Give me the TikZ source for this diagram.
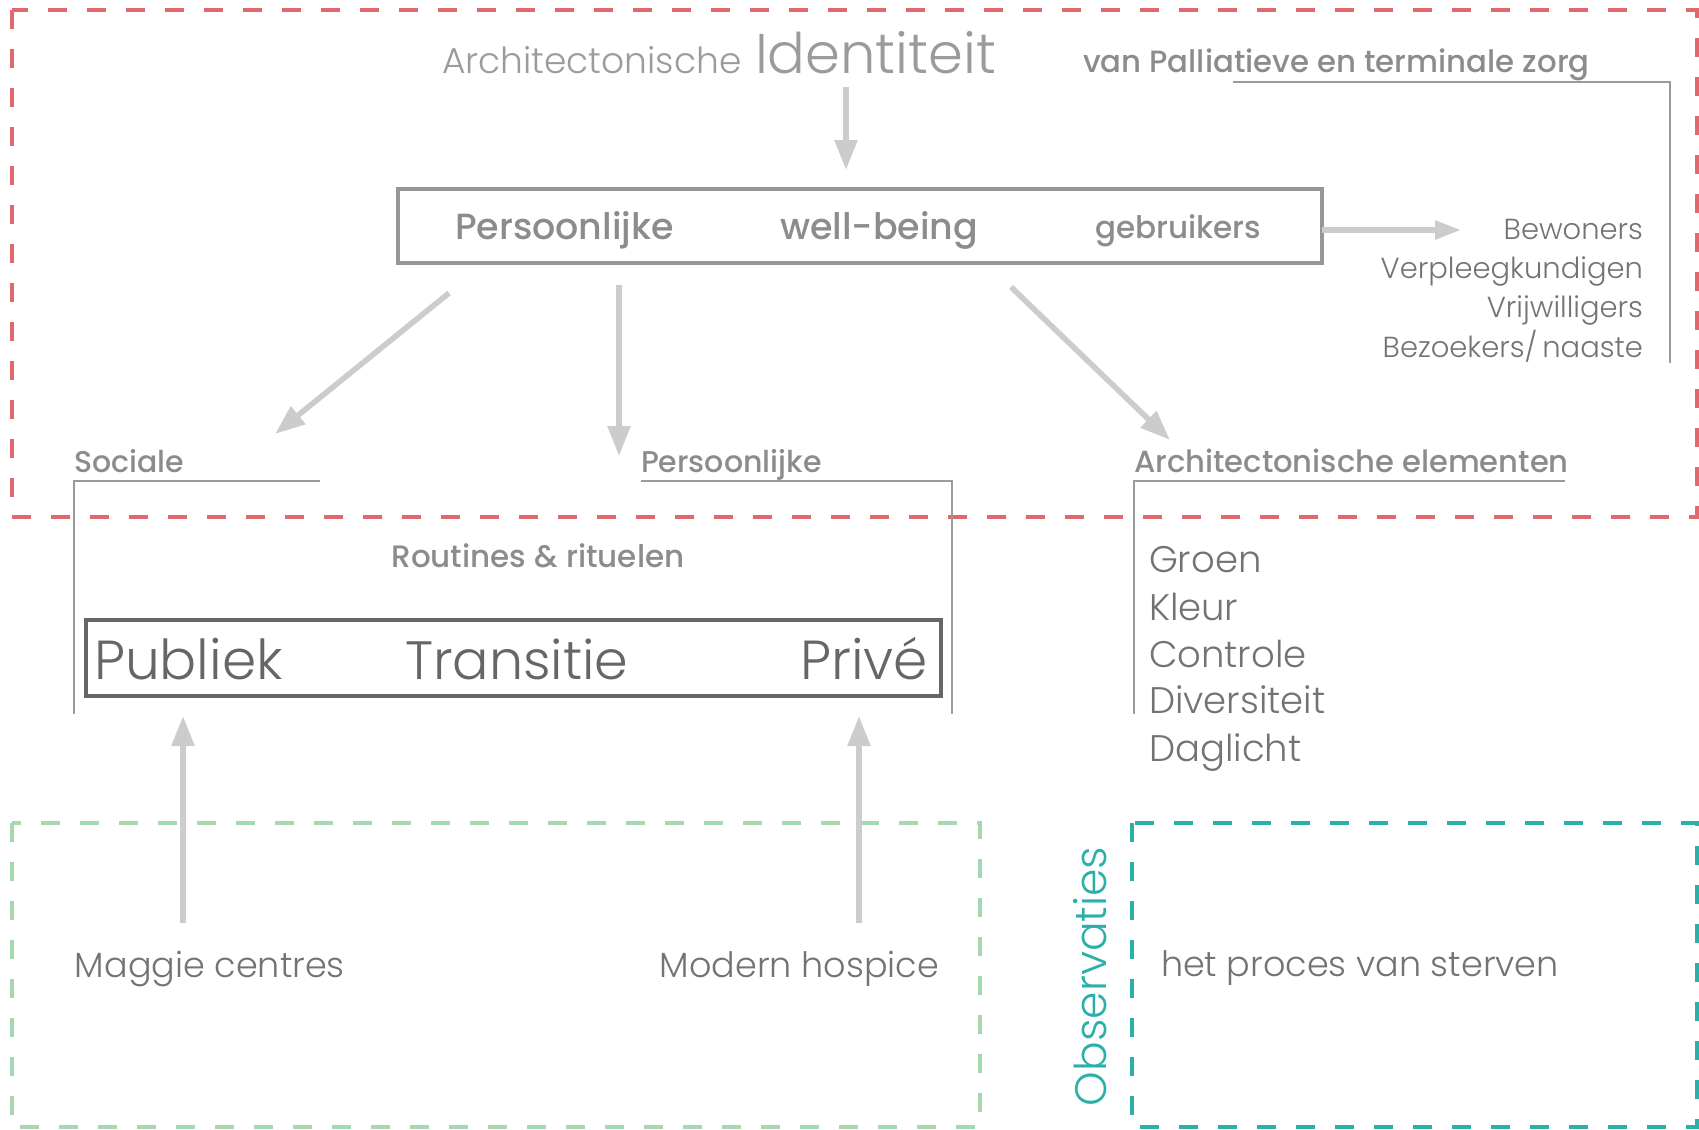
\documentclass[tikz,border=0pt]{standalone}
\usepackage{fontspec}
\newfontfamily\lightfont{Poppins Light}
\newfontfamily\mediumfont{Poppins Medium}
\usepackage{tikz}
\usetikzlibrary{arrows.meta}
\definecolor{zonered}{RGB}{226,104,110}
\definecolor{zonegreen}{RGB}{166,216,176}
\definecolor{zoneteal}{RGB}{42,176,168}
\definecolor{arrowgray}{RGB}{204,204,204}
\definecolor{boxgray}{RGB}{150,150,150}
\definecolor{linegray}{RGB}{155,155,155}
\definecolor{titlegray}{RGB}{155,155,155}
\definecolor{headgray}{RGB}{140,140,140}
\definecolor{listgray}{RGB}{115,115,115}
\definecolor{zonegray}{RGB}{102,102,102}

\begin{document}
\begin{tikzpicture}[x=0.5pt, y=-0.5pt,
    every node/.style={inner sep=0pt, outer sep=0pt},
    light/.style={font=\lightfont\fontsize{#1}{#1}\selectfont},
    medium/.style={font=\mediumfont\fontsize{#1}{#1}\selectfont},
    flow/.style={arrowgray, line width=2.8pt, -{Triangle[length=15pt, width=11pt]}},
    zone/.style={line width=2pt, dash pattern=on 9.5pt off 10pt},
    bracket/.style={linegray, line width=0.8pt}]
    \useasboundingbox (0,0) rectangle (1699,1130);

    % zones
    \draw[zone, zonered]   (12,10) rectangle (1697,517);
    \draw[zone, zonegreen] (12,823) rectangle (980,1127);
    \draw[zone, zoneteal]  (1132,823) rectangle (1697,1127);

    % title
    \node[light=18, titlegray, anchor=base west] (archi) at (442,73) {Architectonische};
    \node[light=28, titlegray, anchor=base west] (ident) at (755,73) {Identiteit};
    \node[medium=15.4, headgray, anchor=base west] (zorg) at (1083,72) {van Palliatieve en terminale zorg};
    \draw[bracket] (1233,82) -- (1670,82) -- (1670,363);

    % well-being box
    \node[draw=boxgray, line width=2pt, minimum width=462pt, minimum height=37pt] (wb) at (860,226) {};
    \node[medium=18.2, headgray, anchor=base west] (pers) at (455,239) {Persoonlijke};
    \node[medium=18.2, headgray, anchor=base west] (well) at (780,239) {well-being};
    \node[medium=15.5, headgray, anchor=base west] (gebr) at (1095,238) {gebruikers};

    % users
    \node[light=14.5, listgray, anchor=base east] (bew) at (1643,239) {Bewoners};
    \node[light=14.5, listgray, anchor=base east] (verp) at (1643,278) {Verpleegkundigen};
    \node[light=14.5, listgray, anchor=base east] (vrij) at (1643,317) {Vrijwilligers};
    \node[light=14.5, listgray, anchor=base east] (bez) at (1643,357) {Bezoekers/\,naaste};

    % three kinds of well-being
    \node[medium=15, headgray, anchor=base west] (soc) at (74,472) {Sociale};
    \node[medium=15, headgray, anchor=base west] (perslab) at (641,472) {Persoonlijke};
    \node[medium=15.3, headgray, anchor=base west] (elem) at (1134,472) {Architectonische elementen};
    \draw[bracket] (320,481) -- (74,481) -- (74,714);
    \draw[bracket] (641,481) -- (952,481) -- (952,714);
    \draw[bracket] (1565,481) -- (1134,481) -- (1134,714);

    \node[medium=15.5, headgray, anchor=base] (rout) at (538,567) {Routines \& rituelen};

    % zones of privacy
    \node[draw=zonegray, line width=2pt, minimum width=427.5pt, minimum height=38.25pt] (priv) at (513.5,658) {};
    \node[light=27.5, zonegray, anchor=base west] (publ) at (94,679) {Publiek};
    \node[light=27, zonegray, anchor=base west] (trans) at (405,679) {Transitie};
    \node[light=27.5, zonegray, anchor=base east] (prive) at (928,679) {Privé};

    % elements
    \node[light=18.5, listgray, anchor=base west] (groen) at (1149,572) {Groen};
    \node[light=18.5, listgray, anchor=base west] (kleur) at (1149,620) {Kleur};
    \node[light=18.5, listgray, anchor=base west] (contr) at (1149,667) {Controle};
    \node[light=18.5, listgray, anchor=base west] (div) at (1149,713) {Diversiteit};
    \node[light=18.5, listgray, anchor=base west] (dagl) at (1149,761) {Daglicht};

    % case studies
    \node[light=17.5, listgray, anchor=base west] (maggie) at (75,977) {Maggie centres};
    \node[light=17.5, listgray, anchor=base east] (hosp) at (939,977) {Modern hospice};
    \node[light=17.5, listgray, anchor=base west] (sterv) at (1161,976) {het proces van sterven};
    \node[light=22, zoneteal, anchor=base west, rotate=90] (obs) at (1106,1106) {Observaties};

    % arrow ends
    \coordinate (identtip) at (846,170);
    \coordinate (bewtip) at (1461,230);
    \coordinate (socs) at (449,293);
    \coordinate (soct) at (275,434);
    \coordinate (perss) at (619,285);
    \coordinate (perst) at (619,456);
    \coordinate (elems) at (1011,287);
    \coordinate (elemt) at (1170,440);
    \coordinate (maggs) at (183,923);
    \coordinate (maggt) at (183,716);
    \coordinate (hosps) at (859,923);
    \coordinate (hospt) at (859,716);

    \draw[flow] (846,87) -- (identtip);
    \draw[flow, -{Triangle[length=13pt, width=9pt]}] (wb.east |- bewtip) -- (bewtip);
    \draw[flow] (socs) -- (soct);
    \draw[flow] (perss) -- (perst);
    \draw[flow] (elems) -- (elemt);
    \draw[flow] (maggs) -- (maggt);
    \draw[flow] (hosps) -- (hospt);
\end{tikzpicture}
\end{document}
